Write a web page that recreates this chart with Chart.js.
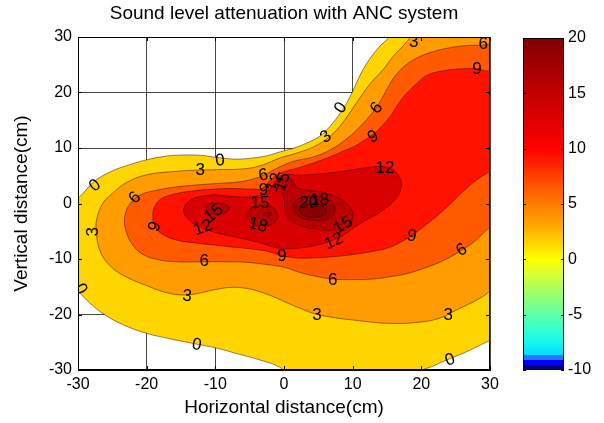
<!DOCTYPE html>
<html><head><meta charset="utf-8">
<script src="https://cdn.jsdelivr.net/npm/chart.js@4.4.1/dist/chart.umd.min.js"></script>
<style>
html,body{margin:0;padding:0;background:#fff;}
#wrap{position:relative;width:604px;height:423px;overflow:hidden;}
#main{position:absolute;left:0;top:0;}
#cbar{position:absolute;left:510px;top:0;}
</style></head><body>
<div id="wrap"><canvas id="main" width="604" height="423"></canvas><canvas id="cbar" width="94" height="423"></canvas></div>
<script>
const FONT = '"Liberation Sans", Arial, Helvetica, sans-serif';
const TITLE = 'Sound level attenuation with ANC system';
const XLABEL = 'Horizontal distance(cm)';
const YLABEL = 'Vertical distance(cm)';
const xTicks = [-30, -20, -10, 0, 10, 20, 30];
const yTicks = [-30, -20, -10, 0, 10, 20, 30];
const cbTicks = [-10, -5, 0, 5, 10, 15, 20];

// contour lines (cm); each encloses the region >= its level
const contour0 = [[-31,1.0],[-30,1.0],[-27.7,3.9],[-25.3,5.7],[-22.5,7.0],[-19.9,7.9],[-17.4,8.5],[-15.6,8.7],[-12.2,8.7],[-9.8,8.3],[-7,8.0],[-4.5,8.2],[-2.5,8.6],[-0.6,9.3],[1.5,10.0],[3.3,10.9],[5.2,12.1],[6.7,13.9],[8.3,16.5],[9.6,19.2],[11.5,24.1],[13.5,27.7],[15.2,29.8],[16.2,31],[31,31],[31,-24.5],[30.2,-24.6],[26.6,-26.7],[23.7,-28.2],[21.5,-29.4],[20.2,-30],[19.5,-31],[0.5,-31],[-0.6,-29.5],[-3.5,-28.2],[-7,-27],[-10,-26],[-13.3,-25.2],[-16.5,-24.4],[-20,-23.4],[-23.5,-21.8],[-26.4,-19.8],[-28.3,-17.9],[-30,-15.8],[-31,-14.5]];
const contour3 = [[18.8,31],[18.3,29.8],[17.5,28.6],[15.9,26.5],[14.5,24.2],[12.5,21.5],[10.6,18.2],[8.2,14.0],[6.5,11.9],[4.3,10.2],[1.4,8.9],[-0.6,8.2],[-3,7.0],[-5.4,6.3],[-9.8,6.1],[-13,6.0],[-15.6,5.8],[-19.9,5.2],[-22.9,3.8],[-25,1.8],[-26.4,0],[-27.3,-3],[-27.3,-5.5],[-26.8,-8.5],[-25.5,-11],[-23.5,-12.9],[-20,-14.8],[-17,-16.1],[-14.5,-16.5],[-12.5,-16.2],[-10,-15.5],[-7.4,-15.1],[-5,-15.4],[-3.5,-15.9],[-1.5,-16.8],[0.1,-17.7],[2,-18.7],[4.3,-19.8],[7,-20.5],[10.1,-21],[15.4,-21.6],[20.3,-21.3],[23,-20.5],[25.1,-19.2],[28.5,-17.1],[30.2,-15.6],[31,-14.8],[31,31]];
const contour6 = [[31,29.3],[30,28.7],[26.1,28.4],[23.5,27.9],[21.3,27.2],[19.5,26.3],[17.8,25],[16.4,23.3],[15.4,21.5],[14.2,18.8],[12.9,16.4],[11.2,14.0],[9.1,11.6],[6.8,9.7],[4.3,8.4],[1.4,7.6],[-0.6,6.6],[-2.5,5.4],[-4,4.6],[-6.4,3.9],[-9.8,3.6],[-13,3.3],[-15.6,3.0],[-18.5,2.4],[-20.8,1.6],[-22.4,0],[-23.2,-2.5],[-23,-5],[-22,-7.5],[-20.5,-9.2],[-18,-10.2],[-15.6,-10.5],[-11.8,-10.5],[-8,-10.5],[-5.4,-10.6],[-2.5,-11],[0.1,-11.5],[2,-12.3],[4.2,-13.0],[7,-13.6],[10.1,-13.7],[13,-13.6],[15.4,-13.2],[18,-12.6],[20.3,-11.7],[23,-10.4],[25.1,-9.0],[27,-7.5],[28.5,-6],[30.2,-3.9],[31,-3],[31,31]];
const contour9 = [[31,23.8],[30,23.8],[28,24.2],[26.6,24.3],[23.7,24.0],[21,23.2],[19.5,21.8],[18,20],[16.9,18.4],[15.4,15.6],[14,13.6],[13,12.5],[11.5,11.2],[10.1,10.2],[8.2,9.2],[6.7,8.4],[4.5,7.4],[2.3,6.5],[0.5,5.9],[-1.0,5.2],[-2.2,3.9],[-3.2,2.7],[-4.5,2.6],[-8,2.7],[-10,2.6],[-13,2.3],[-15.6,1.8],[-17.8,0.9],[-18.8,-0.5],[-19.1,-2.5],[-18.6,-4.5],[-17.3,-5.8],[-15.6,-6.6],[-13,-7.1],[-10,-7.5],[-7,-7.9],[-5.4,-8.1],[-2.5,-8.6],[-0.3,-9.4],[2,-9.8],[4.3,-9.8],[7,-9.6],[10,-9.2],[13,-8.6],[15.4,-7.9],[17.5,-6.6],[18.7,-5.7],[20.5,-4],[22.7,-1.8],[24.5,0.3],[26.1,2.2],[28,4.2],[30,5.8],[31,6.5],[31,31]];
const contour12 = [[-10,1.6],[-6.9,1.2],[-4.2,1.3],[-2.6,2.0],[-1.6,3.3],[-0.8,4.6],[0.4,5.2],[2.3,5.1],[5.7,5.4],[9.1,5.9],[13,6.6],[15.4,6.4],[16.6,5.2],[17.1,3.6],[16.7,1.6],[15.6,0],[14,-1.6],[12.5,-2.6],[11,-3.7],[9.5,-5],[8.2,-6],[6.5,-6.9],[5.2,-7.4],[2.3,-8],[-0.6,-8.1],[-3.7,-7.0],[-6.9,-6.1],[-10,-5.2],[-12.3,-4.2],[-13.8,-3],[-14.6,-1.5],[-14.2,0],[-12.7,1.1],[-10,1.6]];
const contour15a = [[-9.7,0.1],[-8.4,-0.2],[-8.0,-0.9],[-8.5,-1.6],[-9.7,-1.9],[-10.9,-1.7],[-11.4,-0.9],[-10.9,-0.1],[-9.7,0.1]];
const contour15b = [[-3,-0.2],[-1.6,-0.7],[-1.0,-2.1],[-1.5,-3.5],[-3,-4.0],[-4.8,-3.5],[-5.4,-2.1],[-4.7,-0.8],[-3,-0.2]];
const contour15c = [[5.5,2.1],[8,1],[9.7,-0.8],[10,-2.6],[9,-4.2],[7,-4.8],[4.5,-4.6],[2,-3.8],[0.6,-2.6],[0.1,-0.8],[0,1],[-0.4,2.5],[-0.2,3.9],[0.4,4.6],[1.2,4.3],[1.7,3.0],[3,2.5],[5.5,2.1]];
const contour18a = [[-2.5,-1.5],[-1.9,-1.9],[-2.5,-2.3],[-3.1,-1.9],[-2.5,-1.5]];
const contour18b = [[3.8,1.3],[5.8,1.0],[7.2,-0.2],[7.3,-1.8],[6.2,-2.9],[4,-3.0],[2.2,-2.3],[1.3,-0.6],[2,0.8],[3.8,1.3]];
const contour20 = [[4.2,0],[5.6,-0.4],[6.2,-1.3],[5.6,-2.2],[4.2,-2.5],[2.9,-2.1],[2.3,-1.2],[2.8,-0.3],[4.2,0]];

const contourSets = [
  [contour0, 0], [contour3, 3], [contour6, 6], [contour9, 9], [contour12, 12],
  [contour15a, 15], [contour15b, 15], [contour15c, 15],
  [contour18a, 18], [contour18b, 18], [contour20, 20]
];
const bandColor = {0:'#FFD500', 3:'#FF9C00', 6:'#FF5A00', 9:'#FF1200', 12:'#D80000', 15:'#BA0000', 18:'#A00000', 20:'#880000'};

// contour labels: [x, y, text, angle(deg)]
const contourLabels = [
  [-27.5,3.2,'0',-40],[-12.2,6.0,'3',0],[-9.3,7.7,'0',-5],[-21.7,1.0,'6',-45],[-27.8,-5.1,'3',-90],
  [-18.8,-4.2,'9',-70],[-29.6,-15.4,'0',60],[-11.6,-10.4,'6',0],[-14.1,-16.7,'3',5],[-12.7,-25.5,'0',10],
  [-11.8,-4.4,'12',-20],[-10.2,-1.8,'15',-40],[-3.5,0,'15',0],[-3.8,-3.9,'18',15],[-3,2.4,'9',0],
  [-3,5.1,'6',-10],[-1.3,3.8,'12',-70],[-0.2,3.9,'15',-70],[3.6,0,'20',0],[5.2,0.6,'18',0],
  [8.6,-3.9,'15',-30],[7.3,-6.8,'12',-25],[-0.3,-9.6,'9',0],[7.1,-13.8,'6',0],[4.8,-20.1,'3',0],
  [18.6,-5.9,'9',10],[25.9,-8.4,'6',-30],[23.9,-20.1,'3',0],[24.2,-28.2,'0',-20],[14.7,6.4,'12',0],
  [8.3,17.2,'0',-55],[6.1,12.0,'3',-35],[13.5,17.2,'6',-50],[13.0,12.0,'9',-30],[18.9,29.1,'3',0],
  [29.0,28.7,'6',0],[28.1,24.2,'9',0]
];

// colorbar colormap stops [value, colour]
const cbStops = [[-10,'#00007A'],[-9.55,'#00007A'],[-9.55,'#0000F0'],[-9.1,'#0000F0'],[-9.1,'#1E78FF'],[-8.65,'#1E78FF'],[-8.65,'#00DCFF'],[-7.5,'#12F8EE'],[-6,'#40FFC8'],[-4.5,'#70FF98'],[-3,'#A0FF66'],[-1.5,'#D2FF36'],[0,'#FFFF00'],[1.5,'#FFD400'],[3,'#FFAA00'],[5,'#FF7C00'],[7.5,'#FF4000'],[10,'#FF0000'],[12.5,'#E00000'],[15,'#C20000'],[17.5,'#A20000'],[20,'#800000']];

const datasets = contourSets.map(([pts, lvl], i) => ({
  data: pts.map(([x, y]) => ({x, y})),
  showLine: true,
  fill: 'shape',
  backgroundColor: bandColor[lvl],
  borderColor: 'rgba(40,0,0,0.6)',
  borderWidth: 0.8,
  pointRadius: 0,
  pointHoverRadius: 0,
  tension: pts.length < 12 ? 0.5 : 0.4,
  order: 100 - i
}));

const tickFont = {family: FONT, size: 16};
const labFont = {family: FONT, size: 19};

const labelPlugin = {
  id: 'clabels',
  afterDraw(chart) {
    const {ctx, chartArea: a, scales: {x, y}} = chart;
    ctx.save();
    ctx.beginPath(); ctx.rect(a.left, a.top, a.right - a.left, a.bottom - a.top); ctx.clip();
    ctx.font = '17px ' + FONT; ctx.fillStyle = '#000'; ctx.textAlign = 'center'; ctx.textBaseline = 'middle';
    for (const [lx, ly, t, r] of contourLabels) {
      ctx.save();
      ctx.translate(x.getPixelForValue(lx), y.getPixelForValue(ly));
      ctx.rotate(r * Math.PI / 180);
      ctx.fillText(t, 0, 0);
      ctx.restore();
    }
    ctx.restore();
    // box and inner tick marks
    ctx.save();
    ctx.strokeStyle = '#000'; ctx.lineWidth = 1;
    ctx.strokeRect(Math.round(a.left) + 0.5, Math.round(a.top) + 0.5, Math.round(a.right - a.left) - 1, Math.round(a.bottom - a.top) - 1);
    ctx.beginPath();
    for (const v of xTicks) { const px = Math.round(x.getPixelForValue(v)) + 0.5; ctx.moveTo(px, a.top); ctx.lineTo(px, a.top + 4); ctx.moveTo(px, a.bottom); ctx.lineTo(px, a.bottom - 4); }
    for (const v of yTicks) { const py = Math.round(y.getPixelForValue(v)) + 0.5; ctx.moveTo(a.left, py); ctx.lineTo(a.left + 4, py); ctx.moveTo(a.right, py); ctx.lineTo(a.right - 4, py); }
    ctx.stroke();
    ctx.restore();
  }
};

new Chart(document.getElementById('main'), {
  type: 'scatter',
  data: {datasets},
  options: {
    responsive: false, animation: false, events: [],
    layout: {padding: {left: 0, right: 114, top: 0, bottom: 0}},
    elements: {line: {capBezierPoints: false}},
    plugins: {
      legend: {display: false}, tooltip: {enabled: false},
      title: {display: true, text: TITLE, fullSize: false, color: '#000', font: {family: FONT, size: 19, weight: 'normal', lineHeight: 1.2}, padding: {top: 2, bottom: 12.2}}
    },
    scales: {
      x: {
        type: 'linear', min: -30, max: 30, z: 1,
        afterBuildTicks: s => { s.ticks = xTicks.map(v => ({value: v})); },
        ticks: {font: tickFont, color: '#000', padding: 5, maxRotation: 0, autoSkip: false},
        grid: {color: 'rgba(0,0,0,0.72)', lineWidth: 1, drawTicks: false},
        border: {display: true, color: '#000'},
        title: {display: true, text: XLABEL, color: '#000', font: {...labFont, lineHeight: 1.2}, padding: {top: 0, bottom: 3.6}},
        afterFit: s => { s.height = 53; }
      },
      y: {
        type: 'linear', min: -30, max: 30, z: 1,
        afterBuildTicks: s => { s.ticks = yTicks.map(v => ({value: v})); },
        ticks: {font: tickFont, color: '#000', padding: 6, autoSkip: false},
        grid: {color: 'rgba(0,0,0,0.72)', lineWidth: 1, drawTicks: false},
        border: {display: true, color: '#000'},
        title: {display: true, text: YLABEL, color: '#000', font: {...labFont, lineHeight: 1.2}, padding: {top: 10.6, bottom: 0}},
        afterFit: s => { s.width = 78; }
      }
    }
  },
  plugins: [labelPlugin]
});

const cbPlugin = {
  id: 'cbgrad',
  beforeDraw(chart) {
    const {ctx, chartArea: a, scales: {y}} = chart;
    const g = ctx.createLinearGradient(0, a.bottom, 0, a.top);
    const span = a.bottom - a.top;
    for (const [v, c] of cbStops) {
      const off = Math.min(1, Math.max(0, (a.bottom - y.getPixelForValue(v)) / span));
      g.addColorStop(off, c);
    }
    ctx.save();
    ctx.fillStyle = g;
    ctx.fillRect(a.left, a.top, a.right - a.left, a.bottom - a.top);
    ctx.restore();
  },
  afterDraw(chart) {
    const {ctx, chartArea: a, scales: {y}} = chart;
    ctx.save();
    ctx.strokeStyle = '#000'; ctx.lineWidth = 1;
    ctx.strokeRect(Math.round(a.left) + 0.5, Math.round(a.top) + 0.5, Math.round(a.right - a.left) - 1, Math.round(a.bottom - a.top) - 1);
    ctx.beginPath();
    for (const v of cbTicks) { const py = Math.round(y.getPixelForValue(v)) + 0.5; ctx.moveTo(a.left, py); ctx.lineTo(a.left + 3, py); ctx.moveTo(a.right, py); ctx.lineTo(a.right - 3, py); }
    ctx.stroke();
    ctx.restore();
  }
};

new Chart(document.getElementById('cbar'), {
  type: 'scatter',
  data: {datasets: []},
  options: {
    responsive: false, animation: false, events: [],
    layout: {padding: {left: 13, right: 0, top: 38, bottom: 53}},
    plugins: {legend: {display: false}, tooltip: {enabled: false}},
    scales: {
      x: {display: false, min: 0, max: 1},
      y: {
        position: 'right', min: -10, max: 20,
        afterBuildTicks: s => { s.ticks = cbTicks.map(v => ({value: v})); },
        ticks: {font: tickFont, color: '#000', padding: 4, autoSkip: false},
        grid: {display: false, drawTicks: false},
        border: {display: false},
        afterFit: s => { s.width = 40; }
      }
    }
  },
  plugins: [cbPlugin]
});
</script>
</body></html>
